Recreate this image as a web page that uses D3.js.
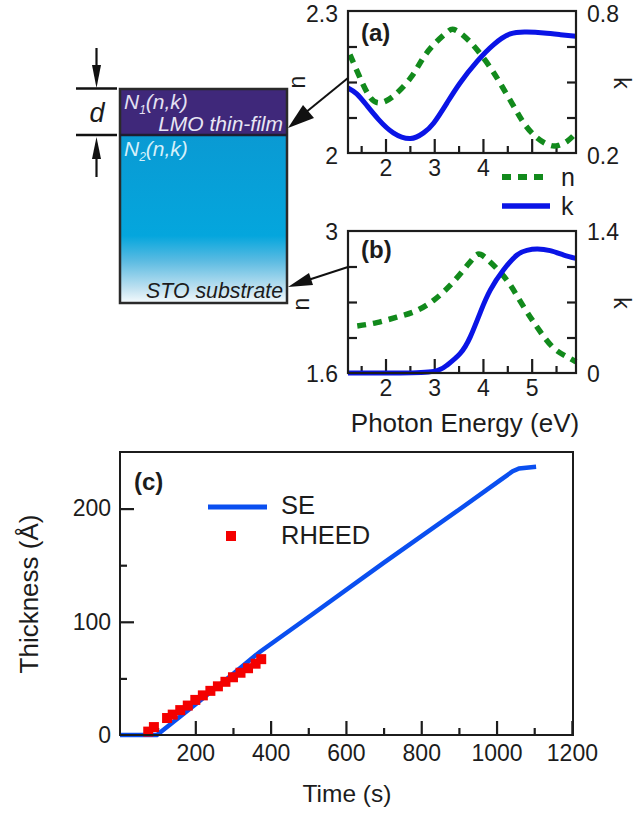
<!DOCTYPE html>
<html><head><meta charset="utf-8">
<script src="https://cdnjs.cloudflare.com/ajax/libs/d3/7.8.5/d3.min.js"></script>
<style>html,body{margin:0;padding:0;background:#fff}svg{display:block}text{font-family:"Liberation Sans",Arial,sans-serif;fill:#1c1c1c}</style>
</head><body><svg id="c" width="636" height="814"></svg>
<script>
// Panel (a)
const aEnergyN=[1.27,1.45,1.65,1.86,2.16,2.51,2.75,2.99,3.26,3.40,3.60,3.88,4.18,4.39,4.63,4.84,5.11,5.38,5.55,5.73,5.91];
const aN=[2.208,2.165,2.123,2.106,2.120,2.158,2.197,2.229,2.255,2.261,2.248,2.218,2.176,2.141,2.099,2.063,2.032,2.016,2.016,2.025,2.042];
const aEnergyK=[1.23,1.41,1.62,1.86,2.16,2.51,2.78,2.99,3.26,3.53,3.88,4.22,4.56,4.90,5.25,5.59,5.91];
const aK=[.475,.450,.400,.341,.285,.261,.285,.327,.411,.496,.587,.658,.703,.711,.707,.700,.693];
// Panel (b)
const bEnergyN=[1.42,1.82,2.23,2.61,2.99,3.33,3.60,3.81,3.95,4.18,4.49,4.73,4.97,5.18,5.45,5.73,5.91];
const bN=[2.064,2.097,2.150,2.209,2.318,2.466,2.615,2.737,2.769,2.680,2.516,2.335,2.153,2.005,1.847,1.758,1.709];
const bEnergyK=[1.23,2.30,2.99,3.26,3.53,3.74,3.95,4.15,4.42,4.70,4.90,5.11,5.38,5.66,5.91];
const bK=[0,0,.016,.076,.191,.356,.603,.817,1.015,1.163,1.209,1.222,1.206,1.163,1.130];
// Panel (c)
const seTime=[0,98,200,300,372,500,700,900,1009,1043,1060,1105];
const seThick=[0,0,27,54,73.6,104,152,199,225,233,235.5,237];
const rheedTime=[75,90,125,140,160,180,200,220,240,260,280,300,320,340,360,375];
const rheedThick=[3,7,15,18,22,26,31,35,39,43,47,51,55,59,63,67];
const energyMajor=[2,3,4,5], energyMinor=[1.5,2.5,3.5,4.5,5.5];
const aEnergyLabels=[2,3,4], bEnergyLabels=[2,3,4,5];
const timeMajor=[200,400,600,800,1000,1200], timeMinor=[100,300,500,700,900,1100];
const thickMajor=[0,100,200], thickMinor=[50,150];

const GREEN="#128a1c", BLUE="#0a14e6", BLUE2="#0a4ff0", RED="#f40000", INK="#1c1c1c";
const svg=d3.select("#c");
const defs=svg.append("defs");
const grad=defs.append("linearGradient").attr("id","sub").attr("x1",0).attr("x2",0).attr("y1",0).attr("y2",1);
[[0,"#0a9ad3"],[.6,"#04a6dd"],[.75,"#5bbbe2"],[.92,"#c4e3f1"],[1,"#f6fbfd"]].forEach(s=>grad.append("stop").attr("offset",s[0]).attr("stop-color",s[1]));

function text(x,y,s,size,o={}){
  const t=svg.append("text").attr("x",x).attr("y",y).attr("font-size",size).text(s);
  if(o.anchor)t.attr("text-anchor",o.anchor);
  if(o.bold)t.attr("font-weight","bold");
  if(o.italic)t.attr("font-style","italic");
  if(o.fill)t.style("fill",o.fill);
  if(o.rot!==undefined)t.attr("transform",`rotate(${o.rot} ${x} ${y})`);
  return t;
}
function ax(gen,tx,ty,w){
  const g=svg.append("g").attr("transform",`translate(${tx},${ty})`).call(gen);
  g.select(".domain").remove();
  g.selectAll("line").attr("stroke",INK).attr("stroke-width",w||2.2);
  g.selectAll("text").style("font-family",'"Liberation Sans",Arial,sans-serif').style("fill",INK);
  return g;
}
function panelEnergy(top,bottom,nDom,kDom,nT,kT,labels,nE,nV,kE,kV,labelDy){
  const L=348,R=576;
  const x=d3.scaleLinear().domain([1.23,5.91]).range([L,R]);
  const yn=d3.scaleLinear().domain(nDom).range([bottom,top]);
  const yk=d3.scaleLinear().domain(kDom).range([bottom,top]);
  ax(d3.axisBottom(x).tickValues(energyMajor).tickSize(-14).tickPadding(0).tickFormat(d=>labels.includes(d)?d:""),0,bottom).selectAll("text").attr("font-size",23).attr("dy","1.0em");
  ax(d3.axisBottom(x).tickValues(energyMinor).tickSize(-7).tickFormat(""),0,bottom);
  const inner=s=>d3.range(1,4).map(i=>s[0]+i*(s[1]-s[0])/4);
  ax(d3.axisLeft(yn).tickValues(inner(nDom)).tickSize(-9).tickFormat(""),L,0);
  ax(d3.axisRight(yk).tickValues(inner(kDom)).tickSize(-9).tickFormat(""),R,0);
  const lg=ax(d3.axisLeft(yn).tickValues(nDom).tickSize(0).tickPadding(10).tickFormat((d,i)=>nT[i]),L,0);
  lg.selectAll("text").attr("font-size",23).attr("dy",labelDy);
  const rg=ax(d3.axisRight(yk).tickValues(kDom).tickSize(0).tickPadding(11).tickFormat((d,i)=>kT[i]),R,0);
  rg.selectAll("text").attr("font-size",23).attr("dy",labelDy);
  const line=(E,V,y)=>d3.line().x((d,i)=>x(E[i])).y(d=>y(d)).curve(d3.curveNatural)(V);
  svg.append("path").attr("d",line(nE,nV,yn)).attr("fill","none").attr("stroke",GREEN).attr("stroke-width",5.5).attr("stroke-dasharray","9 7");
  svg.append("path").attr("d",line(kE,kV,yk)).attr("fill","none").attr("stroke",BLUE).attr("stroke-width",5);
  svg.append("rect").attr("x",L).attr("y",top).attr("width",R-L).attr("height",bottom-top).attr("fill","none").attr("stroke",INK).attr("stroke-width",2.2);
}
panelEnergy(11,153,[2,2.3],[.2,.8],["2","2.3"],["0.2","0.8"],aEnergyLabels,aEnergyN,aN,aEnergyK,aK,"0.46em");
panelEnergy(231,373,[1.6,3],[0,1.4],["1.6","3"],["0","1.4"],bEnergyLabels,bEnergyN,bN,bEnergyK,bK,"0.38em");

text(361,41,"(a)",24,{bold:true});
text(361,258,"(b)",24,{bold:true});
text(465,432,"Photon Energy (eV)",26,{anchor:"middle"});
svg.append("line").attr("x1",502).attr("x2",543).attr("y1",177).attr("y2",177).attr("stroke",GREEN).attr("stroke-width",6).attr("stroke-dasharray","9 7");
svg.append("line").attr("x1",502).attr("x2",550).attr("y1",206).attr("y2",206).attr("stroke",BLUE).attr("stroke-width",5.5);
text(561,186,"n",25);
text(561,215,"k",25);

// Panel (c)
const cL=120,cR=573,cT=452,cB=735;
const xc=d3.scaleLinear().domain([0,1203]).range([cL,cR]);
const yc=d3.scaleLinear().domain([0,250]).range([cB,cT]);
ax(d3.axisBottom(xc).tickValues(timeMajor).tickSize(-14).tickPadding(0).tickFormat(d3.format("d")),0,cB).selectAll("text").attr("font-size",23).attr("dy","1.15em");
ax(d3.axisBottom(xc).tickValues(timeMinor).tickSize(-7).tickFormat(""),0,cB);
ax(d3.axisLeft(yc).tickValues(thickMajor).tickSize(-14).tickPadding(9),cL,0).selectAll("text").attr("font-size",23);
ax(d3.axisLeft(yc).tickValues(thickMinor).tickSize(-7).tickFormat(""),cL,0);
svg.append("path").attr("d",d3.line().x((d,i)=>xc(seTime[i])).y(d=>yc(d))(seThick)).attr("fill","none").attr("stroke",BLUE2).attr("stroke-width",4.5);
svg.append("g").selectAll("rect").data(rheedTime).join("rect")
  .attr("x",d=>xc(d)-5).attr("y",(d,i)=>yc(rheedThick[i])-5).attr("width",10).attr("height",10).attr("fill",RED);
svg.append("rect").attr("x",cL).attr("y",cT).attr("width",cR-cL).attr("height",cB-cT).attr("fill","none").attr("stroke",INK).attr("stroke-width",2);
text(134,490,"(c)",24,{bold:true});
svg.append("line").attr("x1",208).attr("x2",267).attr("y1",507).attr("y2",507).attr("stroke",BLUE2).attr("stroke-width",5);
text(281,514,"SE",25.5);
svg.append("rect").attr("x",226).attr("y",531).attr("width",10).attr("height",10).attr("fill",RED);
text(281,543.5,"RHEED",25.5);
text(38,594,"Thickness (Å)",26,{rot:-90,anchor:"middle"});
text(347,802,"Time (s)",24.5,{anchor:"middle"});

// Schematic of the film and substrate
svg.append("rect").attr("x",120).attr("y",135).attr("width",167).attr("height",168).attr("fill","url(#sub)");
svg.append("rect").attr("x",120).attr("y",89).attr("width",167).attr("height",46).attr("fill","#3f287a");
svg.append("rect").attr("x",120).attr("y",89).attr("width",167).attr("height",214).attr("fill","none").attr("stroke","#2a2a2a").attr("stroke-width",2.5);
svg.append("line").attr("x1",120).attr("x2",287).attr("y1",135).attr("y2",135).attr("stroke","#1e1e30").attr("stroke-width",2.5);
[[76,88.5],[76,135]].forEach(p=>svg.append("line").attr("x1",p[0]).attr("x2",117).attr("y1",p[1]).attr("y2",p[1]).attr("stroke","#111").attr("stroke-width",2.5));
svg.append("line").attr("x1",96.5).attr("x2",96.5).attr("y1",48).attr("y2",75).attr("stroke","#111").attr("stroke-width",2.2);
svg.append("path").attr("d","M92 65L101 65L96.5 88Z").attr("fill","#111");
svg.append("line").attr("x1",96.5).attr("x2",96.5).attr("y1",150).attr("y2",177).attr("stroke","#111").attr("stroke-width",2.2);
svg.append("path").attr("d","M92 159L101 159L96.5 137Z").attr("fill","#111");
text(97,122,"d",27,{italic:true,anchor:"middle"});
const n1=text(124,109,"N",21,{italic:true,fill:"#e4e0f2"});
n1.append("tspan").attr("font-size",12).attr("dy",5).text("1");
n1.append("tspan").attr("dy",-5).text("(n,k)");
text(283,131,"LMO thin-film",21,{italic:true,anchor:"end",fill:"#e8e6f4"});
const n2=text(124,156,"N",21,{italic:true,fill:"#d6f0fa"});
n2.append("tspan").attr("font-size",12).attr("dy",5).text("2");
n2.append("tspan").attr("dy",-5).text("(n,k)");
text(283,297.5,"STO substrate",21.3,{italic:true,anchor:"end"});
svg.append("line").attr("x1",348).attr("y1",78).attr("x2",305).attr("y2",113).attr("stroke","#111").attr("stroke-width",2);
svg.append("path").attr("d","M288 128L303 105L314 118Z").attr("fill","#111");
svg.append("line").attr("x1",348).attr("y1",267).attr("x2",305).attr("y2",281).attr("stroke","#111").attr("stroke-width",2);
svg.append("path").attr("d","M288 287L309 273L313 285Z").attr("fill","#111");
text(305,82,"n",23,{rot:-90,anchor:"middle"});
text(309,304,"n",23,{rot:-90,anchor:"middle"});
text(614,83,"k",23,{rot:90,anchor:"middle"});
text(614,303,"k",23,{rot:90,anchor:"middle"});
</script></body></html>
